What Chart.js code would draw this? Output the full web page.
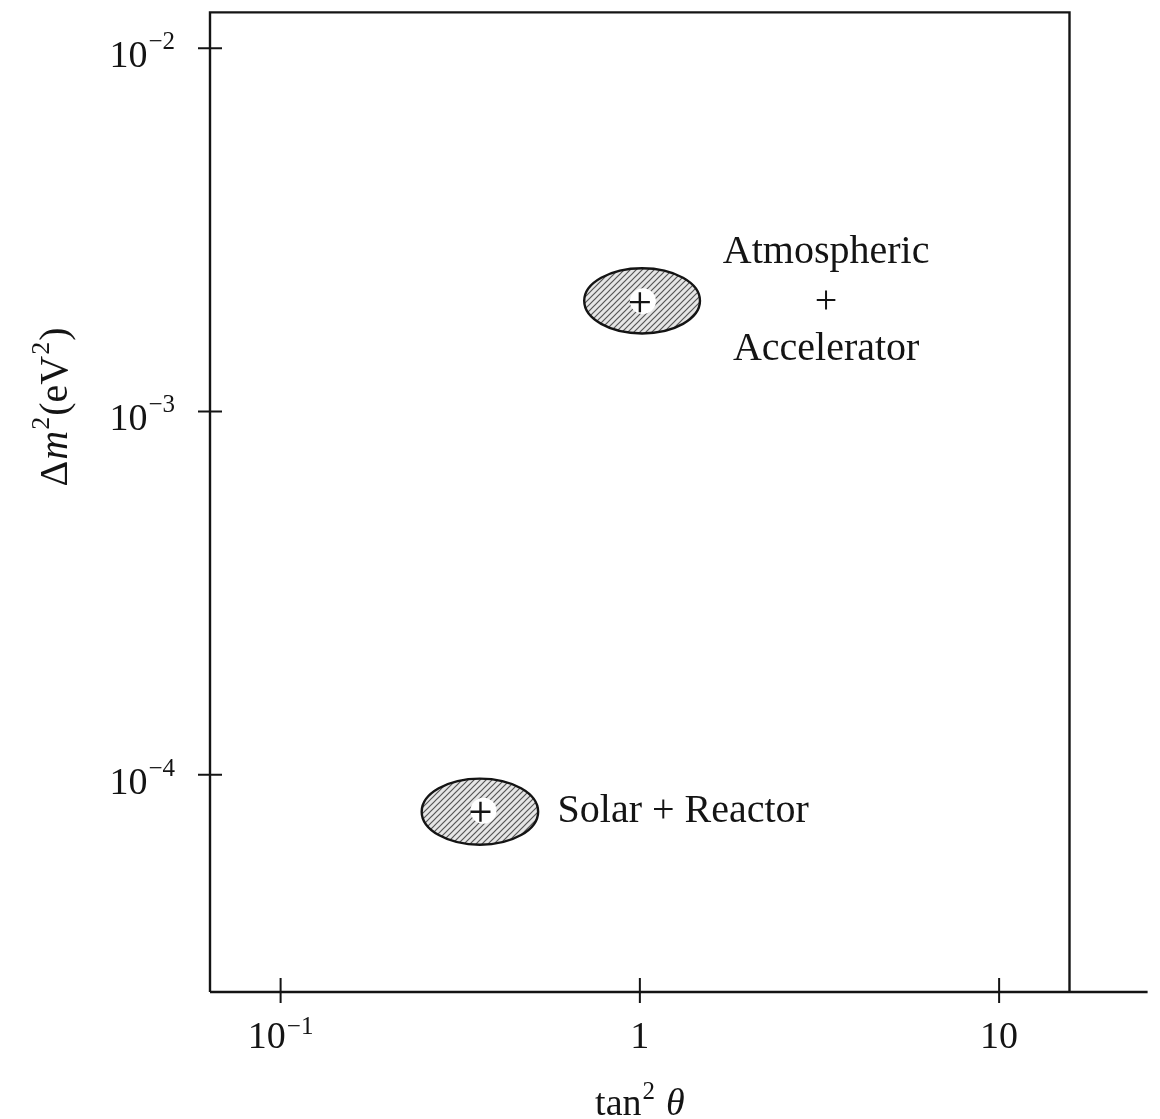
<!DOCTYPE html>
<html>
<head>
<meta charset="utf-8">
<script src="https://cdn.jsdelivr.net/npm/chart.js@4.4.0/dist/chart.umd.min.js"></script>
<style>
  html, body { margin: 0; padding: 0; background: #fff; }
  #wrap { width: 1160px; height: 1119px; }
</style>
</head>
<body>
<div id="wrap"><canvas id="osc" width="1160" height="1119"></canvas></div>
<script>
// AXIS RANGES AND TICKS
const xRange = [0.0636, 25.9];
const frameRight = 15.7;
const yRange = [2.52e-5, 1.256e-2];
const xTicks = [0.1, 1, 10];
const xTickBase = ['10', '1', '10'];
const xTickExp = ['−1', '', ''];
const yTicks = [1e-2, 1e-3, 1e-4];
const yTickBase = ['10', '10', '10'];
const yTickExp = ['−2', '−3', '−4'];

// ALLOWED REGIONS (best fit + extent)
const regionNames = ['Atmospheric + Accelerator', 'Solar + Reactor'];
const bestX = [1.0, 0.36];
const bestY = [2.0e-3, 7.9e-5];
const xLow = [0.70, 0.247];
const xHigh = [1.47, 0.521];
const yLow = [1.64e-3, 6.41e-5];
const yHigh = [2.48e-3, 9.75e-5];

// LABEL ANCHORS (data coords)
const atmLabelX = 3.3;
const solarLabelX = 0.59;

const SERIF = '"Liberation Serif", "DejaVu Serif", serif';
const INK = '#141414';

function makeHatch() {
    const c = document.createElement('canvas');
    c.width = 6; c.height = 6;
    const g = c.getContext('2d');
    g.fillStyle = '#e6e6e6';
    g.fillRect(0, 0, 6, 6);
    g.strokeStyle = '#555';
    g.lineWidth = 1.2;
    g.beginPath();
    g.moveTo(-1, 7); g.lineTo(7, -1);
    g.moveTo(-1, 1); g.lineTo(1, -1);
    g.moveTo(5, 7); g.lineTo(7, 5);
    g.stroke();
    return c;
}

// draw "base^exp" with given anchor; align: 'center' | 'right' | 'left'
function drawPow(ctx, base, exp, x, y, align, size, supSize, supRise) {
    ctx.font = size + 'px ' + SERIF;
    const wb = ctx.measureText(base).width;
    ctx.font = supSize + 'px ' + SERIF;
    const we = exp ? ctx.measureText(exp).width + 1 : 0;
    const total = wb + we;
    let x0 = x;
    if (align === 'center') x0 = x - total / 2;
    else if (align === 'right') x0 = x - total;
    ctx.textAlign = 'left';
    ctx.textBaseline = 'alphabetic';
    ctx.font = size + 'px ' + SERIF;
    ctx.fillText(base, x0, y);
    if (exp) {
        ctx.font = supSize + 'px ' + SERIF;
        ctx.fillText(exp, x0 + wb + 1, y - supRise);
    }
}

const framePlugin = {
    id: 'frame',
    beforeDatasetsDraw(chart) {
        const ctx = chart.ctx;
        const xs = chart.scales.x, ys = chart.scales.y;
        const hatch = ctx.createPattern(makeHatch(), 'repeat');
        for (let i = 0; i < regionNames.length; i++) {
            const l = xs.getPixelForValue(xLow[i]);
            const r = xs.getPixelForValue(xHigh[i]);
            const t = ys.getPixelForValue(yHigh[i]);
            const b = ys.getPixelForValue(yLow[i]);
            ctx.save();
            ctx.beginPath();
            ctx.ellipse((l + r) / 2, (t + b) / 2, (r - l) / 2, (b - t) / 2, 0, 0, Math.PI * 2);
            ctx.fillStyle = hatch;
            ctx.fill();
            ctx.lineWidth = 2.4;
            ctx.strokeStyle = INK;
            ctx.stroke();
            // white patch round the best-fit point
            const px = xs.getPixelForValue(bestX[i]);
            const py = ys.getPixelForValue(bestY[i]);
            ctx.fillStyle = '#fff';
            ctx.beginPath();
            ctx.ellipse(px + 3, py - 1, 13, 13, 0, 0, Math.PI * 2);
            ctx.fill();
            ctx.restore();
        }
    },
    afterDraw(chart) {
        const ctx = chart.ctx;
        const xs = chart.scales.x, ys = chart.scales.y;
        const a = chart.chartArea;
        const xr = xs.getPixelForValue(frameRight);
        ctx.save();
        ctx.strokeStyle = INK;
        ctx.lineWidth = 2.4;
        // frame: left, top, right, and long bottom axis
        ctx.beginPath();
        ctx.moveTo(a.left, a.bottom);
        ctx.lineTo(a.left, a.top);
        ctx.lineTo(xr, a.top);
        ctx.lineTo(xr, a.bottom);
        ctx.moveTo(a.left, a.bottom);
        ctx.lineTo(a.right, a.bottom);
        ctx.stroke();
        // ticks crossing the axes
        ctx.lineWidth = 2;
        ctx.beginPath();
        xTicks.forEach(v => {
            const px = xs.getPixelForValue(v);
            ctx.moveTo(px, a.bottom - 14);
            ctx.lineTo(px, a.bottom + 11);
        });
        yTicks.forEach(v => {
            const py = ys.getPixelForValue(v);
            ctx.moveTo(a.left - 12, py);
            ctx.lineTo(a.left + 12, py);
        });
        ctx.stroke();

        ctx.fillStyle = INK;
        // tick labels
        xTicks.forEach((v, i) => {
            const px = xs.getPixelForValue(v);
            drawPow(ctx, xTickBase[i], xTickExp[i], px, a.bottom + 56, 'center', 38, 25, 14);
        });
        yTicks.forEach((v, i) => {
            const py = ys.getPixelForValue(v);
            drawPow(ctx, yTickBase[i], yTickExp[i], a.left - 35, py + 19, 'right', 38, 25, 18);
        });

        // x title: tan² θ
        ctx.textBaseline = 'alphabetic';
        ctx.textAlign = 'left';
        ctx.font = '38px ' + SERIF;
        const wTan = ctx.measureText('tan').width;
        ctx.font = '25px ' + SERIF;
        const w2 = ctx.measureText('2').width;
        ctx.font = 'italic 38px ' + SERIF;
        const wTh = ctx.measureText('θ').width;
        const xt = (xs.getPixelForValue(xTicks[1])) - (wTan + w2 + 12 + wTh) / 2;
        const yt = 1115;
        ctx.font = '38px ' + SERIF;
        ctx.fillText('tan', xt, yt);
        ctx.font = '25px ' + SERIF;
        ctx.fillText('2', xt + wTan + 1, yt - 16);
        ctx.font = 'italic 38px ' + SERIF;
        ctx.fillText('θ', xt + wTan + w2 + 12, yt);

        // y title: Δm²(eV²), rotated
        ctx.save();
        ctx.translate(67, (ys.getPixelForValue(yTicks[1]) - 5));
        ctx.rotate(-Math.PI / 2);
        const parts = [
            ['Δ', '40px', 0], ['m', 'italic 40px', 0], ['2', '26px', 18],
            ['(eV', '40px', 0], ['2', '26px', 18], [')', '40px', 0]
        ];
        let tw = 0;
        parts.forEach(p => { ctx.font = p[1] + ' ' + SERIF; tw += ctx.measureText(p[0]).width + 1; });
        let cx = -tw / 2;
        parts.forEach(p => {
            ctx.font = p[1] + ' ' + SERIF;
            ctx.fillText(p[0], cx, -p[2]);
            cx += ctx.measureText(p[0]).width + 1;
        });
        ctx.restore();

        // region labels
        ctx.font = '40px ' + SERIF;
        ctx.textAlign = 'center';
        ctx.textBaseline = 'middle';
        const ax = xs.getPixelForValue(atmLabelX);
        const ay = ys.getPixelForValue(bestY[0]);
        ctx.fillText('Atmospheric', ax, ay - 50);
        ctx.fillText('+', ax, ay);
        ctx.fillText('Accelerator', ax, ay + 47);
        ctx.textAlign = 'left';
        ctx.fillText(regionNames[1], xs.getPixelForValue(solarLabelX), ys.getPixelForValue(bestY[1]));
        ctx.restore();
    }
};

const ctx = document.getElementById('osc').getContext('2d');
const oscChart = new Chart(ctx, {
    type: 'scatter',
    data: {
        datasets: [{
            label: 'best fit',
            data: bestX.map((x, i) => ({ x: x, y: bestY[i] })),
            pointStyle: 'cross',
            pointRadius: 10,
            pointBorderWidth: 2.4,
            borderColor: INK,
            backgroundColor: INK
        }]
    },
    options: {
        responsive: false,
        animation: false,
        devicePixelRatio: 1,
        layout: { padding: { left: 210, right: 10, top: 12, bottom: 127 } },
        plugins: {
            legend: { display: false },
            tooltip: { enabled: false }
        },
        scales: {
            x: { type: 'logarithmic', min: xRange[0], max: xRange[1], display: false },
            y: { type: 'logarithmic', min: yRange[0], max: yRange[1], display: false }
        }
    },
    plugins: [framePlugin]
});
</script>
</body>
</html>
